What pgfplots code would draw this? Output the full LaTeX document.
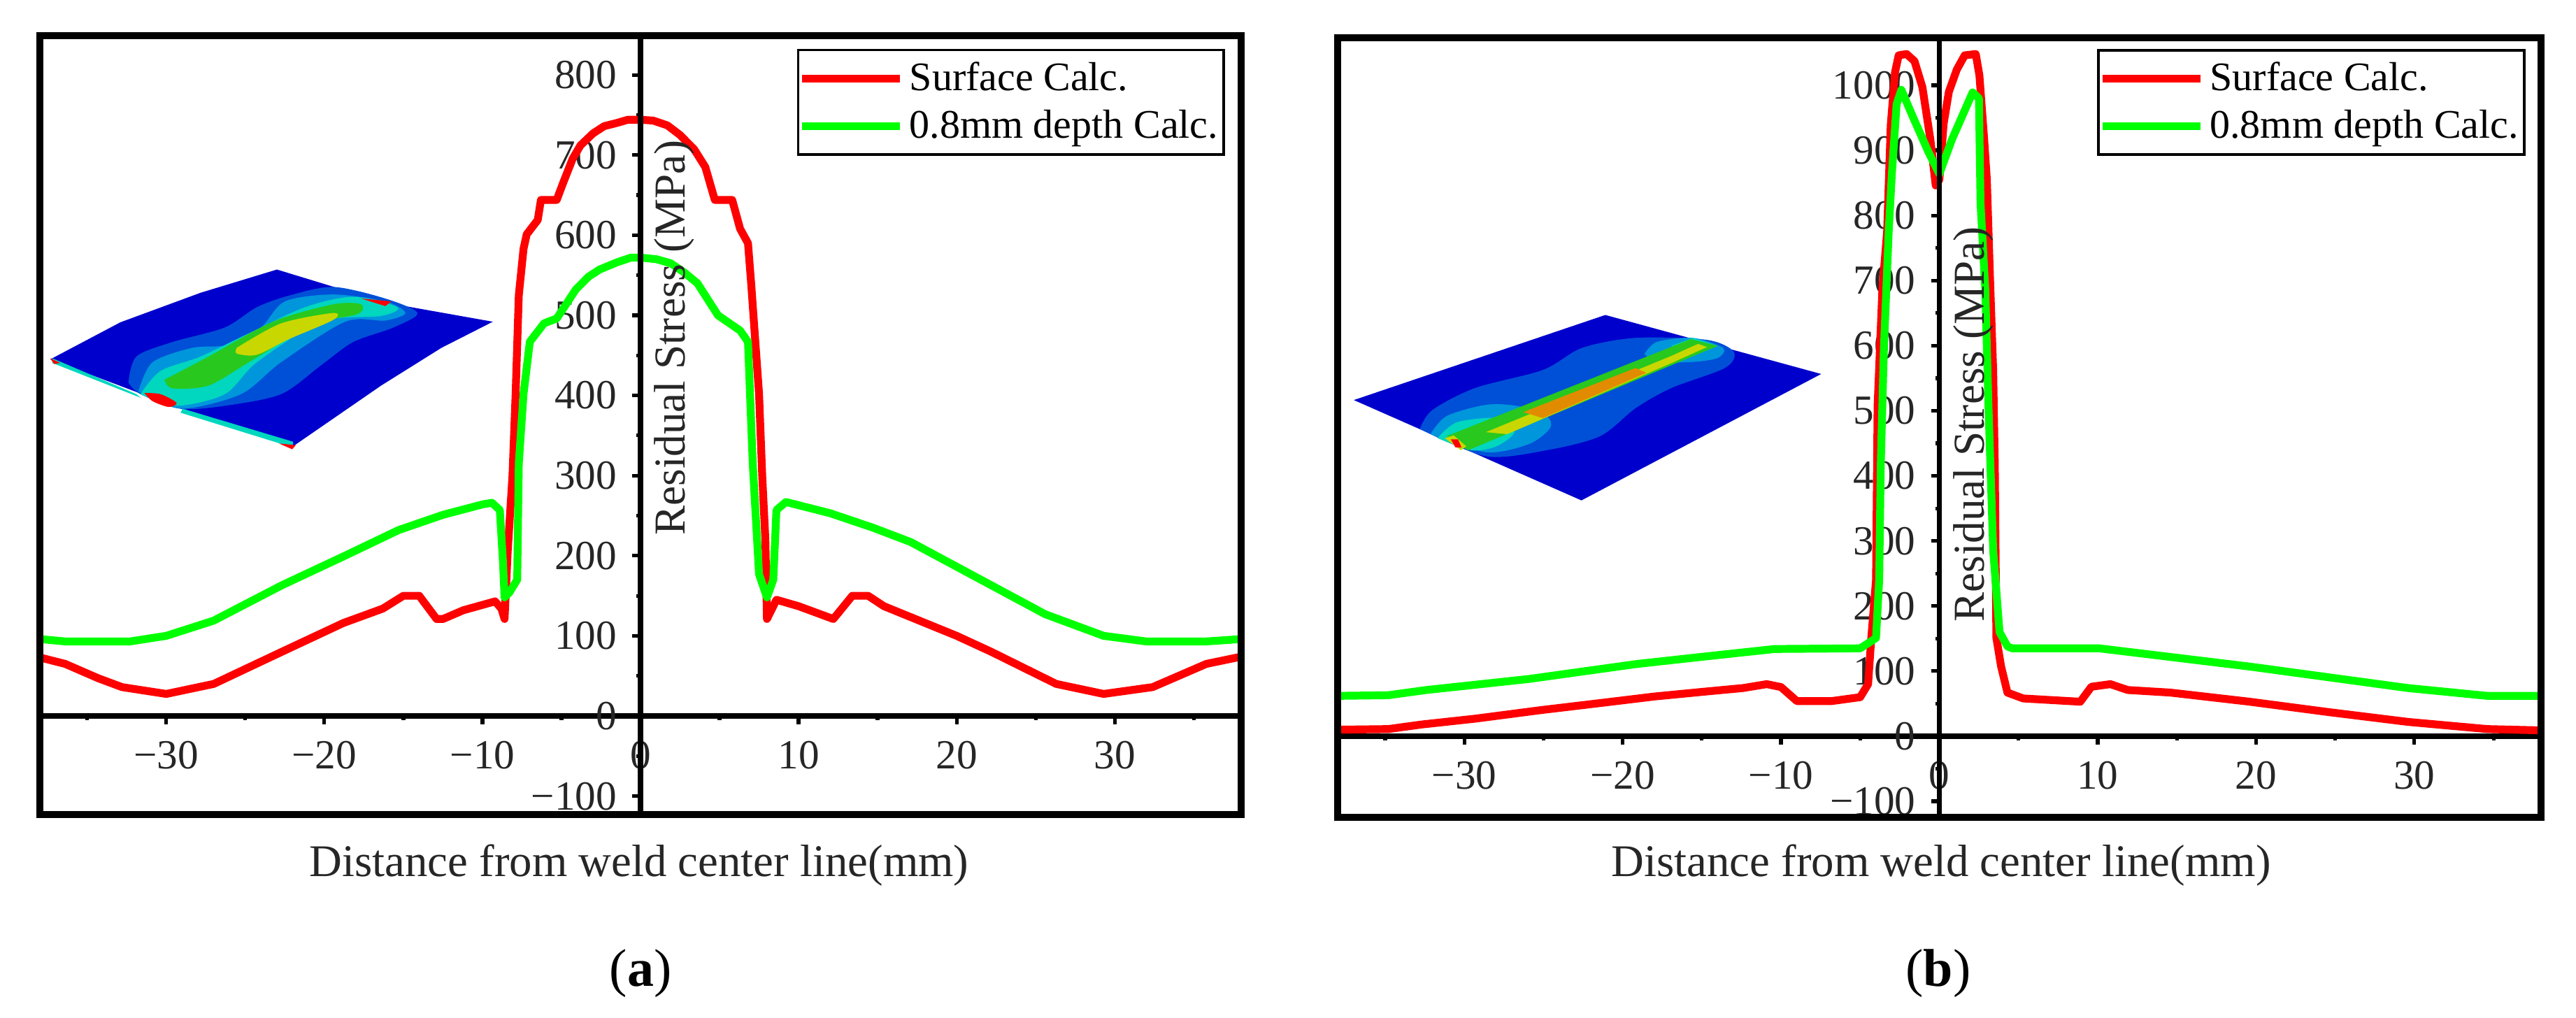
\documentclass[border=0pt]{standalone}
\usepackage{fontspec}
\setmainfont{Liberation Serif}
\usepackage{pgfplots}
\pgfplotsset{compat=1.18}

\definecolor{cred}{RGB}{255,0,0}
\definecolor{cgreen}{RGB}{0,255,0}
\definecolor{pdark}{RGB}{0,0,205}
\definecolor{pmid}{RGB}{0,80,215}
\definecolor{plight}{RGB}{0,150,220}
\definecolor{pcyan}{RGB}{0,215,190}
\definecolor{pgrn}{RGB}{40,200,30}
\definecolor{pyel}{RGB}{200,215,0}
\definecolor{porg}{RGB}{225,140,0}

\pgfplotsset{
  stress/.style={
    scale only axis,
    anchor=south west,
    axis x line=middle,
    axis y line=middle,
    axis line style={line width=1.9pt,-},
    xmin=-38, xmax=38,
    xtick={-30,-20,-10,0,10,20,30},
    xticklabels={−30,−20,−10,0,10,20,30},
    minor xtick={-35,-25,-15,-5,5,15,25,35},
    tick align=outside,
    major tick length=3pt,
    minor tick length=1.5pt,
    every tick/.style={black,line width=1.3pt},
    minor tick style={black,line width=1.3pt},
    hide obscured x ticks=false,
    hide obscured y ticks=false,
    tick label style={font=\fontsize{14.8}{16}\selectfont,text=black!85},
    xticklabel style={yshift=-2.5pt},
    yticklabel style={xshift=-2pt},
    clip mode=individual,
    xlabel={},
    every axis y label/.style={at={(axis cs:2.15,\ylabpos)},rotate=90,anchor=center,
      font=\fontsize{15.8}{16}\selectfont,text=black!85},
    ylabel={Residual Stress (MPa)},
    legend style={draw=black,line width=0.9pt,font=\fontsize{14.5}{18}\selectfont,
      inner xsep=0pt,inner ysep=2.3pt,row sep=1.4pt,
      /tikz/every even column/.append style={column sep=1pt}},
    legend cell align=left,
    legend image code/.code={\draw[##1,line width=2.8pt] (0,0) -- (35pt,0);},
  },
  curve/.style={#1,line width=2.8pt,line join=round},
  pl/.style={fill=#1,draw=none,forget plot},
  plate/.style={scale only axis,anchor=south west,hide axis,clip=false,
    xmin=0,xmax=1568,ymin=0,ymax=1568,y dir=reverse},
}
\newcommand{\ylabpos}{0}

\begin{document}
\begin{tikzpicture}
\path[use as bounding box] (0,0) rectangle (921pt,364pt);

% panel a
\renewcommand{\ylabpos}{472}
\begin{axis}[stress,
  at={(14.25pt,72.75pt)}, width=429.5pt, height=278.5pt,
  ymin=-123, ymax=849,
  ytick={-100,0,100,200,300,400,500,600,700,800},
  yticklabels={−100,0,100,200,300,400,500,600,700,800},
  minor ytick={-50,50,150,250,350,450,550,650,750},
  legend style={at={(rel axis cs:0.9866,0.983)},anchor=north east},
]
\addplot[curve=cred] coordinates {
(-38,73) (-36.4,65) (-34.3,47) (-32.8,36) (-30,27.5) (-27,40) (-22.7,80) (-18.8,116) (-16.3,134)
(-15,150) (-14,150) (-12.9,121) (-12.5,121) (-11.2,132) (-9.2,143) (-8.8,134) (-8.6,121)
(-8.4,206) (-8.1,300) (-7.9,402) (-7.7,525) (-7.4,583) (-7.2,601) (-6.5,619) (-6.3,644) (-5.3,644)
(-4.9,665) (-4.3,695) (-3.8,712) (-3,727) (-2.3,736) (-1.5,740) (-0.8,744) (0,744) (0.8,743) (1.7,737)
(2.5,725) (3.4,707) (4.1,685) (4.7,644) (5.8,644)
(6.3,608) (6.8,590) (7,540) (7.5,402) (7.7,300) (7.9,220) (8,121) (8.6,145) (10,137) (12.2,121)
(13.4,150) (14.4,150) (15.4,137) (20,100) (22.2,80) (26.3,40) (29.3,27.5) (32.4,36) (35.8,65) (38,74)};
\addlegendentry{Surface Calc.}
\addplot[curve=cgreen] coordinates {
(-38,96) (-36.4,93) (-32.3,93) (-30,100) (-27,119) (-22.7,163) (-18.8,199) (-15.3,232) (-12.5,251)
(-10,264) (-9.4,266) (-8.9,257) (-8.7,192) (-8.6,148) (-8.3,154) (-7.8,170) (-7.7,315) (-7.4,402)
(-7,467) (-6.1,490) (-5.3,496) (-4.1,532) (-3.3,548) (-2.6,557) (-1.5,566) (-0.6,572) (0,572) (1,570) (1.9,565) (2.8,553) (3.6,540) (4.9,500)
(6.3,481) (6.8,467) (7.1,315) (7.5,177) (8,148) (8.4,170) (8.6,257) (9.2,267) (12,253) (14.7,235)
(17.1,217) (22.2,163) (25.6,127) (29.3,100) (32,93) (35.8,93) (38,96)};
\addlegendentry{0.8mm depth Calc.}
\draw[line width=1.9pt] (axis cs:0,-123) -- (axis cs:0,849);
\draw[line width=2.4pt] (rel axis cs:0,0) rectangle (rel axis cs:1,1);
\end{axis}

% panel b
\renewcommand{\ylabpos}{479}
\begin{axis}[stress,
  at={(478.25pt,71.75pt)}, width=430.25pt, height=278.75pt,
  ymin=-124.6, ymax=1073,
  ytick={-100,0,100,200,300,400,500,600,700,800,900,1000},
  yticklabels={−100,0,100,200,300,400,500,600,700,800,900,1000},
  minor ytick={-50,50,150,250,350,450,550,650,750,850,950},
  legend style={at={(rel axis cs:0.987,0.9857)},anchor=north east},
]
\addplot[curve=cred] coordinates {
(-38,10) (-34.8,11) (-32.7,18) (-29.3,27) (-25.2,40) (-21.4,51) (-18,61) (-14.6,69) (-12.4,74)
(-10.9,80) (-10,75.5) (-9,54) (-6.8,54) (-5,60) (-4.5,80) (-4.3,151) (-4,240) (-3.9,508) (-3.6,686)
(-3.3,775) (-3.07,939) (-2.8,1020) (-2.57,1046) (-2.07,1048) (-1.57,1037) (-1.07,997) (-0.57,917) (-0.23,846) (0,855)
(0.27,941) (0.6,990) (1.1,1024) (1.6,1046) (2.3,1048) (2.53,1015) (2.83,917) (3,855) (3.2,703) (3.4,561) (3.5,418) (3.6,151)
(3.9,107) (4.3,67) (5.3,58) (8.9,53) (9.6,76) (10.8,80) (11.9,71) (14.6,67) (19.6,53) (24.6,37)
(29.6,22) (34.6,11) (38,9)};
\addlegendentry{Surface Calc.}
\addplot[curve=cgreen] coordinates {
(-38,62) (-34.8,63) (-32.4,71) (-25.9,88) (-19.1,111) (-14.6,123) (-10.4,134) (-5,135) (-4.3,146)
(-4,151) (-3.8,240) (-3.7,418) (-3.5,597) (-3.2,775) (-3,864) (-2.7,971) (-2.4,993) (-1.7,953)
(-0.7,898) (0,864) (0.8,917) (2.1,989) (2.5,980) (2.6,819) (2.9,686) (3.1,508) (3.4,285) (3.8,160)
(4.3,138) (4.6,135) (10.1,135) (19.6,107) (29.6,74) (34.6,62) (38,62)};
\addlegendentry{0.8mm depth Calc.}
\draw[line width=1.9pt] (axis cs:0,-124.6) -- (axis cs:0,1073);
\draw[line width=2.4pt] (rel axis cs:0,0) rectangle (rel axis cs:1,1);
\end{axis}

% contour plate in panel a
\begin{axis}[plate, at={(0pt,39pt)}, width=225pt, height=325pt]
\addplot[pl=pdark] coordinates {(125,620) (300,556) (500,505) (690,465) (960,522) (1228,555) (1100,600) (950,665) (730,770) (450,705) (125,620)};
\addplot[pl=pmid,smooth] coordinates {(320,660) (340,615) (430,590) (560,565) (640,530) (720,510) (830,495) (960,515) (1040,540) (980,565) (880,590) (800,630) (700,680) (560,700) (450,705) (350,680) (320,660)};
\addplot[pl=plight,smooth] coordinates {(345,675) (380,625) (480,600) (570,595) (650,565) (710,520) (830,508) (960,520) (1010,540) (960,553) (860,555) (700,625) (600,680) (450,705) (345,675)};
\addplot[pl=pcyan,smooth] coordinates {(350,680) (400,640) (500,615) (620,575) (760,530) (880,512) (990,530) (950,545) (800,555) (640,625) (560,680) (440,700) (350,680)};
\addplot[pl=pgrn,smooth] coordinates {(410,655) (520,615) (680,555) (830,525) (900,525) (890,542) (780,560) (620,625) (520,665) (430,670) (410,655)};
\addplot[pl=pyel,smooth] coordinates {(590,600) (700,558) (830,540) (830,552) (720,585) (640,612) (590,610) (590,600)};
\addplot[pl=cred,smooth] coordinates {(360,678) (400,680) (440,695) (420,702) (380,692) (360,678)};
\addplot[pl=pcyan] coordinates {(130,618) (340,680) (350,686) (130,626)};
\addplot[pl=pcyan] coordinates {(455,705) (730,762) (730,772) (450,712)};
\addplot[pl=cred] coordinates {(125,618) (150,626) (135,628)};
\addplot[pl=cred] coordinates {(695,765) (737,768) (728,775)};
\addplot[pl=cred] coordinates {(900,515) (975,520) (960,528)};
\end{axis}

% contour plate in panel b
\begin{axis}[plate, at={(470pt,39pt)}, width=200pt, height=225pt]
\addplot[pl=pdark] coordinates {(110,300) (815,88) (1420,235) (748,550) (110,300)};
\addplot[pl=pmid,smooth] coordinates {(295,372) (330,325) (450,270) (640,225) (750,170) (900,145) (1100,150) (1175,180) (1150,220) (1000,270) (900,320) (800,390) (650,425) (480,440) (295,372)};
\addplot[pl=plight,smooth] coordinates {(325,385) (370,340) (480,312) (570,315) (650,340) (660,370) (600,410) (480,430) (325,385)};
\addplot[pl=plight,smooth] coordinates {(925,185) (960,155) (1060,145) (1145,170) (1130,195) (1060,205) (960,205) (925,185)};
\addplot[pl=pcyan,smooth] coordinates {(345,395) (400,355) (520,345) (560,380) (510,415) (440,425) (345,395)};
\addplot[pl=pcyan] coordinates {(1000,165) (1060,145) (1130,165) (1060,190)};
\addplot[pl=pgrn] coordinates {(370,390) (1055,148) (1130,165) (430,425)};
\addplot[pl=pyel] coordinates {(480,380) (1000,190) (1075,160) (1100,168) (1000,208) (540,385)};
\addplot[pl=porg] coordinates {(585,330) (900,220) (930,232) (640,345)};
\addplot[pl=pyel] coordinates {(365,395) (390,388) (425,415) (410,425)};
\addplot[pl=cred] coordinates {(382,398) (402,398) (412,418) (395,418)};
\end{axis}

% labels in picture coordinates
\node[font=\fontsize{16.2}{18}\selectfont,text=black!85] at (228.5pt,54.5pt) {Distance from weld center line(mm)};
\node[font=\fontsize{16.2}{18}\selectfont,text=black!85] at (694pt,54.5pt) {Distance from weld center line(mm)};
\node[font=\fontsize{19}{20}\selectfont] at (229pt,16pt) {(\textbf{a})};
\node[font=\fontsize{19}{20}\selectfont] at (693pt,16pt) {(\textbf{b})};
\end{tikzpicture}
\end{document}
